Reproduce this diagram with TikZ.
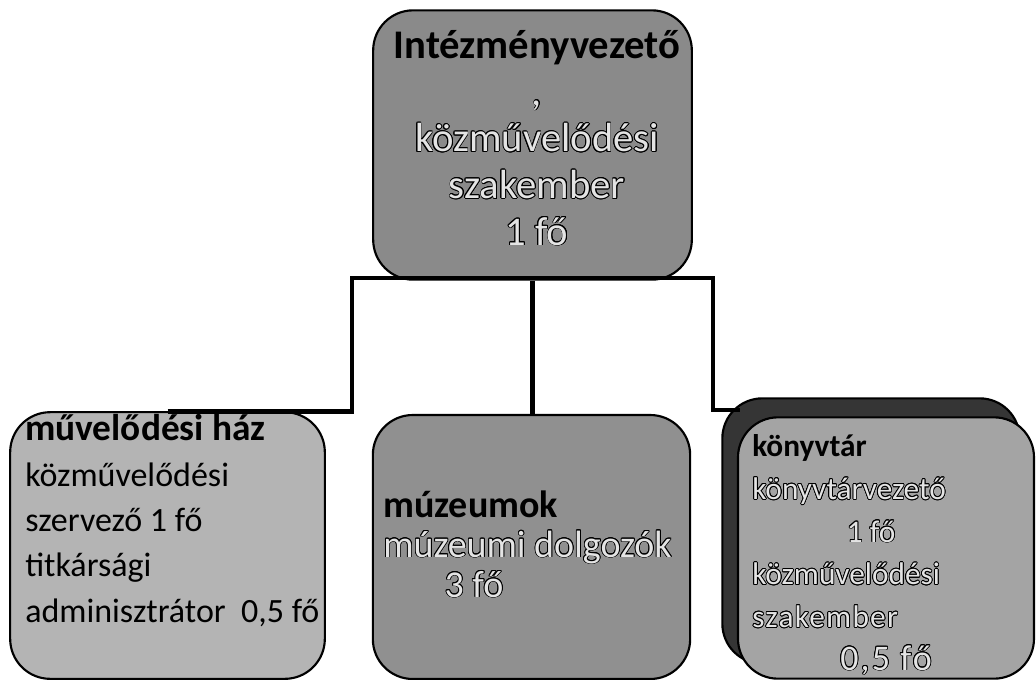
\documentclass[tikz,border=0pt]{standalone}
\usepackage{fontspec}
\setmainfont{Carlito}
\usepackage{contour}
\contourlength{0.6pt}
\newcommand{\lite}[1]{\contour{black}{#1}}

\definecolor{topgray}{HTML}{8A8A8A}
\definecolor{lightgray}{HTML}{B4B4B4}
\definecolor{midgray}{HTML}{909090}
\definecolor{rightgray}{HTML}{A4A4A4}
\definecolor{backgray}{HTML}{353535}
\definecolor{paletext}{HTML}{E4E4E4}

\tikzset{
    unit/.style={draw=black, line width=1.6pt, rounded corners=30pt, fill=#1},
    link/.style={line width=3.6pt},
    words/.style={inner sep=0pt, text=black, align=left}
}

\begin{document}
\begin{tikzpicture}[x=0.75pt, y=-0.75pt]
    \useasboundingbox (0, 0) rectangle (1036, 679);

    % boxes
    \node [unit=topgray, minimum width=239pt, minimum height=202pt] at (532.5, 145) (vezeto) {};
    \node [unit=lightgray, minimum width=236pt, minimum height=200pt] at (167.5, 545.5) (haz) {};
    \node [unit=midgray, minimum width=238pt, minimum height=198pt] at (531.5, 547) (muzeum) {};
    \node [unit=backgray, minimum width=223pt, minimum height=199pt] at (871, 531) (konyvtarback) {};
    \node [unit=rightgray, minimum width=222pt, minimum height=196pt] at (886, 548) (konyvtar) {};

    % lines between the boxes
    \coordinate (lbar) at (352, 278);
    \coordinate (rbar) at (713, 278);
    \coordinate (rend) at (740, 410);
    \draw [link] (haz.north) -| (lbar) -- (rbar) |- (rend);
    \draw [link] (vezeto.south) -- (vezeto.south |- muzeum.north);

    % texts (anchored at the baseline of the last line)
    \node [words, align=center, anchor=base, font=\fontsize{30.5}{35}\selectfont]
        at (537, 245) (vezetotext)
        {\textbf{Intézményvezető}\\ \color{paletext}\lite{,}\\ \color{paletext}\lite{közművelődési}\\
         \color{paletext}\lite{szakember}\\ \color{paletext}\lite{1 fő}};
    \node [words, anchor=base west, font=\fontsize{25.5}{34}\selectfont]
        at (25, 622) (haztext)
        {\fontsize{28}{34}\selectfont\textbf{művelődési ház}\\ közművelődési\\ szervező 1 fő\\ titkársági\\ adminisztrátor\ \ 0,5 fő};
    \node [words, anchor=base west, font=\fontsize{28.5}{30}\selectfont]
        at (383, 597) (muzeumtext)
        {\textbf{múzeumok}\\ \color{paletext}\lite{múzeumi dolgozók}\\
         \hspace*{46pt}\color{paletext}\lite{3 fő}};
    \node [words, anchor=base west, font=\fontsize{23.5}{32}\selectfont]
        at (752, 670) (konyvtartext)
        {\textbf{könyvtár}\\ \color{paletext}\lite{könyvtárvezető}\\
         \hspace*{71pt}\color{paletext}\lite{1 fő}\\ \color{paletext}\lite{közművelődési}\\
         \color{paletext}\lite{\addfontfeature{LetterSpace=4}szakember}\\
         \hspace*{66pt}\color{paletext}\lite{\addfontfeature{LetterSpace=6}\fontsize{27}{32}\selectfont 0,5 fő}};
\end{tikzpicture}
\end{document}
